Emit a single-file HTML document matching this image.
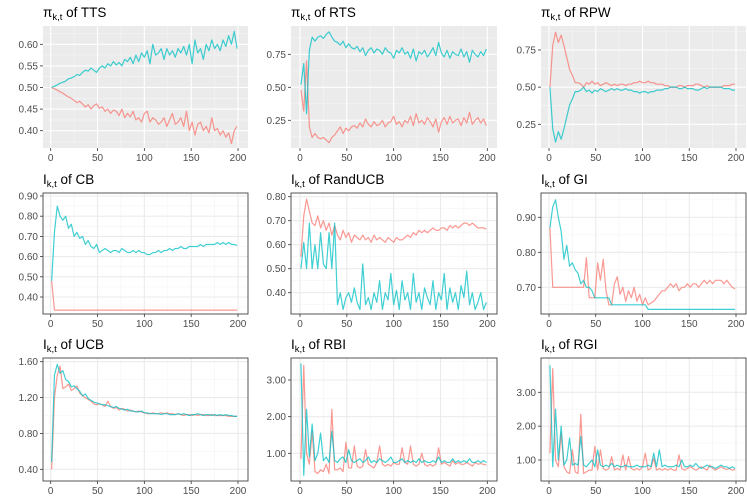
<!DOCTYPE html>
<html><head><meta charset="utf-8"><style>
html,body{margin:0;padding:0;background:#fff;}
svg{display:block;font-family:"Liberation Sans",sans-serif;}
</style></head><body>
<svg id="chart" width="747" height="498" viewBox="0 0 747 498"></svg>
<script>
const timeSteps = 67; // t = 1,4,...,199
const ttsCyan=[0.50,0.503,0.506,0.51,0.512,0.515,0.52,0.522,0.525,0.53,0.528,0.535,0.54,0.538,0.545,0.54,0.535,0.545,0.55,0.545,0.555,0.55,0.56,0.552,0.558,0.55,0.565,0.56,0.57,0.555,0.575,0.56,0.58,0.57,0.585,0.555,0.60,0.575,0.58,0.59,0.565,0.59,0.575,0.585,0.57,0.59,0.58,0.595,0.575,0.60,0.555,0.61,0.58,0.59,0.565,0.60,0.585,0.61,0.59,0.60,0.585,0.61,0.595,0.62,0.60,0.63,0.59];
const ttsRed=[0.50,0.497,0.494,0.49,0.487,0.482,0.478,0.475,0.47,0.465,0.468,0.462,0.455,0.46,0.45,0.458,0.462,0.452,0.455,0.445,0.45,0.44,0.448,0.445,0.435,0.45,0.43,0.44,0.432,0.445,0.425,0.43,0.42,0.44,0.445,0.42,0.43,0.425,0.415,0.42,0.43,0.41,0.425,0.44,0.415,0.42,0.43,0.41,0.445,0.40,0.42,0.39,0.415,0.42,0.40,0.41,0.395,0.43,0.40,0.405,0.39,0.40,0.385,0.395,0.37,0.40,0.41];
const rtsCyan=[0.52,0.68,0.30,0.78,0.88,0.85,0.88,0.89,0.87,0.90,0.92,0.88,0.85,0.84,0.82,0.85,0.80,0.83,0.80,0.79,0.81,0.77,0.80,0.74,0.78,0.80,0.76,0.79,0.78,0.75,0.80,0.77,0.76,0.72,0.78,0.76,0.80,0.75,0.77,0.72,0.79,0.70,0.77,0.75,0.78,0.73,0.76,0.80,0.74,0.84,0.76,0.73,0.78,0.72,0.77,0.75,0.74,0.79,0.73,0.77,0.69,0.78,0.75,0.73,0.77,0.74,0.79];
const rtsRed=[0.48,0.32,0.70,0.20,0.12,0.15,0.12,0.11,0.12,0.10,0.08,0.12,0.14,0.17,0.20,0.15,0.19,0.17,0.20,0.21,0.19,0.23,0.20,0.26,0.22,0.20,0.24,0.21,0.22,0.25,0.20,0.23,0.24,0.28,0.22,0.24,0.20,0.25,0.23,0.28,0.21,0.30,0.23,0.25,0.22,0.27,0.24,0.20,0.26,0.16,0.24,0.27,0.22,0.28,0.23,0.25,0.26,0.21,0.27,0.23,0.31,0.22,0.25,0.27,0.23,0.26,0.21];
const rpwRed=[0.50,0.78,0.87,0.80,0.85,0.78,0.70,0.62,0.58,0.53,0.53,0.52,0.50,0.53,0.52,0.54,0.52,0.53,0.51,0.52,0.53,0.52,0.51,0.52,0.51,0.52,0.52,0.51,0.52,0.52,0.53,0.53,0.54,0.53,0.53,0.54,0.53,0.53,0.52,0.52,0.52,0.51,0.51,0.50,0.50,0.50,0.51,0.51,0.50,0.51,0.51,0.51,0.52,0.52,0.51,0.50,0.51,0.50,0.50,0.50,0.50,0.50,0.51,0.51,0.51,0.52,0.52];
const rpwCyan=[0.50,0.22,0.13,0.20,0.15,0.22,0.30,0.38,0.42,0.47,0.47,0.48,0.50,0.47,0.48,0.46,0.48,0.47,0.49,0.48,0.47,0.48,0.49,0.48,0.49,0.48,0.48,0.49,0.48,0.48,0.47,0.47,0.46,0.47,0.47,0.46,0.47,0.47,0.48,0.48,0.48,0.49,0.49,0.50,0.50,0.50,0.49,0.49,0.50,0.49,0.49,0.49,0.48,0.48,0.49,0.50,0.49,0.50,0.50,0.50,0.50,0.50,0.49,0.49,0.49,0.48,0.48];
const cbCyan=[0.48,0.72,0.85,0.80,0.78,0.80,0.74,0.76,0.70,0.72,0.69,0.70,0.66,0.68,0.65,0.64,0.66,0.62,0.63,0.64,0.63,0.62,0.63,0.63,0.62,0.64,0.63,0.62,0.62,0.63,0.62,0.63,0.62,0.62,0.61,0.61,0.62,0.62,0.63,0.62,0.63,0.63,0.64,0.63,0.64,0.64,0.65,0.64,0.64,0.65,0.65,0.65,0.65,0.66,0.65,0.66,0.66,0.66,0.66,0.67,0.66,0.67,0.66,0.67,0.66,0.66,0.655];
const cbRed=[0.48,0.335,0.335,0.335,0.335,0.335,0.335,0.335,0.335,0.335,0.335,0.335,0.335,0.335,0.335,0.335,0.335,0.335,0.335,0.335,0.335,0.335,0.335,0.335,0.335,0.335,0.335,0.335,0.335,0.335,0.335,0.335,0.335,0.335,0.335,0.335,0.335,0.335,0.335,0.335,0.335,0.335,0.335,0.335,0.335,0.335,0.335,0.335,0.335,0.335,0.335,0.335,0.335,0.335,0.335,0.335,0.335,0.335,0.335,0.335,0.335,0.335,0.335,0.335,0.335,0.335,0.335];
const randRed=[0.55,0.72,0.79,0.74,0.69,0.68,0.72,0.67,0.70,0.66,0.69,0.64,0.68,0.64,0.62,0.66,0.63,0.65,0.61,0.64,0.63,0.62,0.64,0.62,0.63,0.61,0.64,0.62,0.63,0.62,0.61,0.63,0.62,0.61,0.63,0.62,0.62,0.63,0.64,0.63,0.65,0.64,0.66,0.65,0.66,0.65,0.66,0.67,0.66,0.66,0.67,0.67,0.66,0.68,0.67,0.68,0.67,0.68,0.69,0.69,0.68,0.69,0.68,0.67,0.67,0.67,0.665];
const randCyan=[0.50,0.61,0.50,0.69,0.50,0.60,0.50,0.65,0.52,0.50,0.65,0.50,0.69,0.35,0.40,0.33,0.38,0.40,0.36,0.42,0.36,0.33,0.52,0.35,0.38,0.33,0.40,0.36,0.45,0.33,0.40,0.37,0.48,0.35,0.41,0.33,0.45,0.37,0.40,0.33,0.48,0.36,0.40,0.33,0.42,0.38,0.35,0.45,0.33,0.40,0.37,0.48,0.33,0.42,0.36,0.40,0.33,0.43,0.38,0.49,0.35,0.40,0.33,0.36,0.40,0.33,0.36];
const giRed=[0.87,0.70,0.70,0.70,0.70,0.70,0.70,0.70,0.70,0.70,0.70,0.70,0.70,0.785,0.67,0.67,0.67,0.77,0.72,0.78,0.69,0.65,0.65,0.71,0.73,0.68,0.70,0.66,0.69,0.67,0.70,0.66,0.68,0.65,0.67,0.65,0.655,0.66,0.67,0.68,0.69,0.69,0.70,0.71,0.70,0.71,0.69,0.70,0.70,0.71,0.70,0.71,0.71,0.70,0.71,0.72,0.71,0.72,0.71,0.72,0.72,0.72,0.71,0.72,0.71,0.70,0.695];
const giCyan=[0.87,0.93,0.95,0.90,0.86,0.78,0.82,0.76,0.77,0.75,0.74,0.71,0.72,0.70,0.70,0.69,0.67,0.67,0.67,0.67,0.67,0.67,0.65,0.65,0.65,0.65,0.65,0.65,0.65,0.65,0.65,0.65,0.65,0.65,0.65,0.637,0.637,0.637,0.637,0.637,0.637,0.637,0.637,0.637,0.637,0.637,0.637,0.637,0.637,0.637,0.637,0.637,0.637,0.637,0.637,0.637,0.637,0.637,0.637,0.637,0.637,0.637,0.637,0.637,0.637,0.637,0.637];
const ucbRed=[0.40,1.20,1.45,1.55,1.30,1.32,1.35,1.28,1.30,1.33,1.25,1.22,1.20,1.18,1.16,1.13,1.12,1.13,1.12,1.10,1.16,1.10,1.08,1.09,1.06,1.08,1.07,1.05,1.06,1.05,1.04,1.05,1.04,1.03,1.02,1.02,1.03,1.02,1.02,1.03,1.02,1.03,1.02,1.02,1.01,1.02,1.01,1.00,1.01,1.01,1.00,1.01,1.00,1.01,1.01,1.00,1.00,1.01,1.00,1.00,1.00,1.00,1.00,0.99,0.99,0.99,0.99];
const ucbCyan=[0.48,1.45,1.57,1.47,1.50,1.40,1.38,1.32,1.33,1.30,1.27,1.22,1.24,1.19,1.17,1.15,1.14,1.13,1.12,1.12,1.11,1.10,1.09,1.10,1.08,1.07,1.06,1.07,1.05,1.05,1.04,1.04,1.05,1.03,1.03,1.02,1.02,1.02,1.02,1.01,1.02,1.02,1.01,1.01,1.01,1.02,1.01,1.02,1.01,1.00,1.01,1.01,1.02,1.01,1.00,1.01,1.01,1.00,1.01,1.00,1.01,1.00,1.01,1.00,1.00,0.99,0.99];
const rbiRed=[0.85,3.40,1.00,0.70,1.60,0.50,0.45,0.55,0.50,0.70,0.45,2.20,0.55,0.55,0.60,0.50,1.30,0.60,0.60,1.20,0.65,0.60,0.65,1.10,0.70,0.65,0.60,0.75,1.20,0.70,0.65,0.70,0.65,0.75,0.70,0.70,1.15,0.75,0.70,1.20,0.70,0.65,0.70,1.00,0.70,0.65,0.70,0.65,0.70,1.15,0.70,0.75,0.70,0.65,0.80,0.70,0.75,0.70,0.70,0.75,0.70,0.65,0.75,0.70,0.72,0.70,0.68];
const rbiCyan=[3.45,0.40,2.20,0.90,1.80,0.80,1.00,1.55,0.80,0.90,0.75,1.60,0.80,0.75,0.85,0.90,0.75,1.10,0.80,0.75,0.80,0.85,0.75,0.80,0.90,0.75,0.80,0.75,0.85,0.80,0.75,0.80,0.90,0.75,0.75,0.80,0.85,0.75,0.80,0.75,0.80,0.75,0.85,0.75,0.80,0.75,0.75,0.80,0.75,0.90,0.75,0.80,0.75,0.75,0.85,0.75,0.80,0.75,0.80,0.75,0.85,0.75,0.75,0.80,0.75,0.80,0.75];
const rgiRed=[1.20,3.70,1.00,0.80,1.80,0.80,0.65,0.60,1.30,0.65,0.60,2.35,0.60,0.65,0.70,0.70,1.40,0.70,1.30,0.75,0.70,0.75,1.10,0.70,0.75,0.70,1.15,0.70,1.10,0.75,0.70,0.75,0.70,0.80,1.20,0.70,0.75,1.05,0.70,0.75,0.70,0.75,0.70,0.75,0.70,0.70,1.15,0.75,0.70,0.75,0.80,0.75,0.70,0.75,0.80,0.75,0.70,0.85,0.75,0.70,0.75,0.80,0.75,0.72,0.75,0.70,0.72];
const rgiCyan=[3.80,0.80,2.50,1.00,2.00,0.85,1.00,1.65,0.85,0.90,0.85,1.70,0.85,0.80,0.90,1.00,0.80,1.30,0.85,0.80,0.85,0.80,0.90,0.80,0.85,0.80,0.80,0.85,0.80,0.80,0.80,0.85,0.80,0.80,0.80,0.85,0.80,1.20,0.80,1.30,0.80,0.85,0.80,0.80,0.80,0.85,0.80,1.00,0.80,0.80,0.85,0.80,0.90,0.80,0.75,0.80,0.85,0.80,0.80,0.75,0.80,0.85,0.80,0.80,0.75,0.80,0.75];
const xTicks=[0,50,100,150,200];
const yTicksTTS=["0.40","0.45","0.50","0.55","0.60"];
const yTicksRTS=["0.25","0.50","0.75"];
const yTicksCB=["0.40","0.50","0.60","0.70","0.80","0.90"];
const yTicksRand=["0.40","0.50","0.60","0.70","0.80"];
const yTicksGI=["0.70","0.80","0.90"];
const yTicksUCB=["0.40","0.80","1.20","1.60"];
const yTicksRBI=["1.00","2.00","3.00"];

const NS="http://www.w3.org/2000/svg";
const svg=document.getElementById('chart');
function mk(tag,attrs,parent){const e=document.createElementNS(NS,tag);for(const k in attrs)e.setAttribute(k,attrs[k]);(parent||svg).appendChild(e);return e;}
const cols=[{l:43,r:248,x0:50.7,x200:238},{l:291,r:497,x0:300,x200:487.3},{l:541,r:746,x0:549,x200:736}];
const rows=[{t:26,b:148},{t:193,b:314},{t:358,b:481}];
const panels=[
 {sym:"π",name:"TTS",c:0,r:0,grey:true,v1:0.60,p1:44.3,v2:0.40,p2:130.7,ticks:yTicksTTS,red:ttsRed,cyan:ttsCyan},
 {sym:"π",name:"RTS",c:1,r:0,grey:true,v1:0.75,p1:54.3,v2:0.25,p2:120.3,ticks:yTicksRTS,red:rtsRed,cyan:rtsCyan},
 {sym:"π",name:"RPW",c:2,r:0,grey:true,v1:0.75,p1:50,v2:0.25,p2:124.3,ticks:yTicksRTS,red:rpwRed,cyan:rpwCyan},
 {sym:"I",name:"CB",c:0,r:1,grey:false,v1:0.90,p1:196,v2:0.40,p2:297,ticks:yTicksCB,red:cbRed,cyan:cbCyan},
 {sym:"I",name:"RandUCB",c:1,r:1,grey:false,v1:0.80,p1:196.7,v2:0.40,p2:292.7,ticks:yTicksRand,red:randRed,cyan:randCyan},
 {sym:"I",name:"GI",c:2,r:1,grey:false,v1:0.90,p1:217.3,v2:0.70,p2:287.3,ticks:yTicksGI,red:giRed,cyan:giCyan},
 {sym:"I",name:"UCB",c:0,r:2,grey:false,v1:1.60,p1:361.7,v2:0.40,p2:469.3,ticks:yTicksUCB,red:ucbRed,cyan:ucbCyan},
 {sym:"I",name:"RBI",c:1,r:2,grey:false,v1:3,p1:380,v2:1,p2:453.3,ticks:yTicksRBI,red:rbiRed,cyan:rbiCyan},
 {sym:"I",name:"RGI",c:2,r:2,grey:false,v1:3,p1:392.3,v2:1,p2:460,ticks:yTicksRBI,red:rgiRed,cyan:rgiCyan}
];
panels.forEach(p=>{
 const C=cols[p.c],R=rows[p.r];
 const xs=t=>C.x0+(t/200)*(C.x200-C.x0);
 const ys=v=>p.p1+(v-p.v1)*(p.p2-p.p1)/(p.v2-p.v1);
 const key=p.name.toLowerCase();
 const g=mk('g',{});
 
 
 const bg=mk('rect',{x:C.l,y:R.t,width:C.r-C.l,height:R.b-R.t,fill:p.grey?'#ebebeb':'#fff'},g);
 
 
 const majC=p.grey?'#fff':'#ebebeb',minC=p.grey?'#f5f5f5':'#f4f4f4';
 const tv=p.ticks.map(Number);const step=tv[1]-tv[0];
 for(let k=-1;k<tv.length;k++){const v=tv[0]+step*(k+0.5);const y=ys(v);if(y>R.t&&y<R.b){const ln=mk('line',{x1:C.l,x2:C.r,y1:y,y2:y,stroke:minC,'stroke-width':0.6},g);}}
 for(let k=0;k<xTicks.length-1;k++){const x=xs(xTicks[k]+25);const ln=mk('line',{x1:x,x2:x,y1:R.t,y2:R.b,stroke:minC,'stroke-width':0.6},g);}
 p.ticks.forEach(lbl=>{const y=ys(Number(lbl));
  const ln=mk('line',{x1:C.l,x2:C.r,y1:y,y2:y,stroke:majC,'stroke-width':1.1},g);
  
  const tk=mk('line',{x1:C.l-3,x2:C.l,y1:y,y2:y,stroke:'#333','stroke-width':0.8},g);
  
  const tx=mk('text',{x:C.l-5,y:y+3.5,'text-anchor':'end','font-size':'10',fill:'#4d4d4d'},g);tx.textContent=lbl;
  });
 xTicks.forEach(t=>{const x=xs(t);
  const ln=mk('line',{x1:x,x2:x,y1:R.t,y2:R.b,stroke:majC,'stroke-width':1.1},g);
  
  const tk=mk('line',{x1:x,x2:x,y1:R.b,y2:R.b+3,stroke:'#333','stroke-width':0.8},g);
  
  const tx=mk('text',{x:x,y:R.b+13,'text-anchor':'middle','font-size':'10',fill:'#4d4d4d'},g);tx.textContent=String(t);
  });
 [['red',p.red,'#F8766D'],['cyan',p.cyan,'#00BFC4']].forEach(([nm,arr,col])=>{
  const n=arr.length;
  const d=arr.map((v,i)=>(i?'L':'M')+xs(1+i*(198/(n-1))).toFixed(2)+','+ys(v).toFixed(2)).join('');
  const path=mk('path',{d:d,fill:'none',stroke:col,'stroke-width':1.2,'stroke-opacity':0.75,'stroke-linejoin':'round'},g);
  
  
 });
 if(!p.grey){const br=mk('rect',{x:C.l,y:R.t,width:C.r-C.l,height:R.b-R.t,fill:'none',stroke:'#444','stroke-width':0.9},g);
  }
 const tt=mk('text',{x:C.l,y:R.t-9,'font-size':'13.5',fill:'#000'},g);
 
 const s1=mk('tspan',{},tt);s1.textContent=p.sym;
 const s2=mk('tspan',{'font-size':'9.5',dy:'3'},tt);s2.textContent='k,t';
 const s3=mk('tspan',{dy:'-3'},tt);s3.textContent=' of '+p.name;
});
</script>
</body></html>
